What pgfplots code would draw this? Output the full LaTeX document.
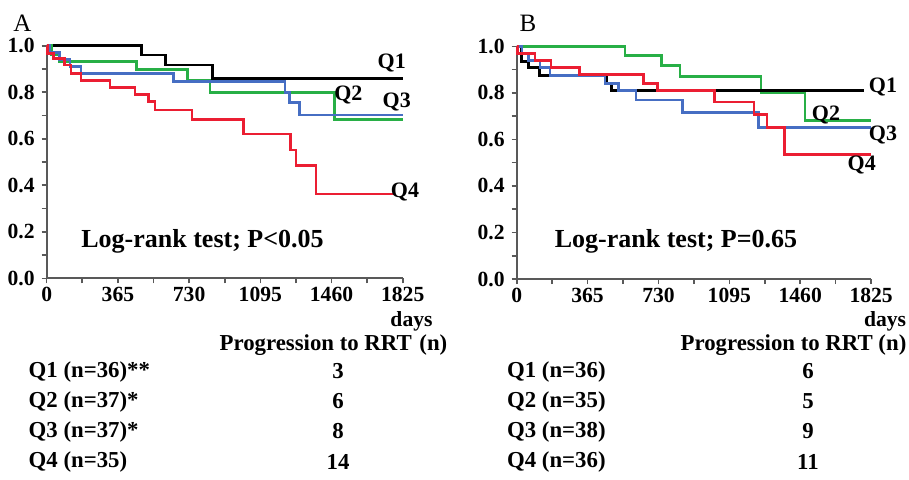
\documentclass[border=0pt]{standalone}
\usepackage{fontspec}
\setmainfont{Liberation Serif}
\usepackage{pgfplots}
\pgfplotsset{compat=1.18}

\definecolor{qgreen}{RGB}{40,175,70}
\definecolor{qblue}{RGB}{70,110,195}
\definecolor{qred}{RGB}{235,30,50}

\newcommand{\tk}{\bfseries\fontsize{10.8}{11}\selectfont}
\newcommand{\ql}{\bfseries\fontsize{11}{11}\selectfont}
\newcommand{\tb}{\bfseries\fontsize{11.4}{12}\selectfont}

\pgfplotsset{
  km/.style={
    scale only axis,
    xmin=0, xmax=1825, ymin=0, ymax=1,
    axis lines=left,
    axis line style={-, draw=black!65, line width=0.9pt},
    xtick={0,365,730,1095,1460,1825},
    minor xtick={182.5,547.5,912.5,1277.5,1642.5},
    ytick={0,0.2,0.4,0.6,0.8,1.0},
    minor ytick={0.1,0.3,0.5,0.7,0.9},
    tick align=outside,
    major tick length=2.5pt, minor tick length=2.5pt,
    tick style={draw=black!65, line width=0.8pt},
    ticklabel style={font=\tk},
    /pgf/number format/assume math mode=true,
    yticklabel style={/pgf/number format/.cd, fixed, fixed zerofill, precision=1},
    xticklabel style={yshift=-0.8pt, inner sep=1pt, /pgf/number format/.cd, fixed, 1000 sep={}},
    clip=false,
  },
  curve/.style={const plot, no marks, line width=1.3pt},
}

\begin{document}
\begin{tikzpicture}[x=0.5pt, y=-0.5pt]
\useasboundingbox (0,0) rectangle (909,479);

% ---- panel A
\begin{axis}[km, at={(23.35pt,-139.15pt)}, anchor=south west, width=178pt, height=116.3pt]
\addplot[curve, black] coordinates {(0,1)(487,0.96)(610,0.917)(850,0.86)(1825,0.86)};
\addplot[curve, qgreen] coordinates {(0,1)(26,0.96)(65,0.931)(461,0.899)(721,0.853)(837,0.80)(1475,0.684)(1825,0.684)};
\addplot[curve, qblue] coordinates {(0,1)(17,0.97)(65,0.94)(120,0.91)(176,0.881)(649,0.845)(1222,0.80)(1244,0.755)(1295,0.702)(1825,0.702)};
\addplot[curve, qred] coordinates {(0,1)(5,0.967)(34,0.946)(90,0.917)(125,0.88)(176,0.85)(325,0.82)(453,0.79)(521,0.76)(555,0.724)(744,0.684)(1008,0.62)(1251,0.552)(1277,0.484)(1381,0.362)(1780,0.362)};
\end{axis}

% ---- panel B
\begin{axis}[km, at={(258.35pt,-139.5pt)}, anchor=south west, width=177.2pt, height=116.35pt]
\addplot[curve, qgreen] coordinates {(0,1)(558,0.96)(747,0.917)(841,0.87)(1257,0.80)(1485,0.68)(1825,0.68)};
\addplot[curve, black] coordinates {(0,1)(25,0.934)(60,0.909)(116,0.874)(464,0.84)(489,0.81)(1790,0.81)};
\addplot[curve, qblue] coordinates {(0,1)(27,0.97)(60,0.94)(120,0.91)(172,0.874)(455,0.84)(523,0.81)(614,0.77)(855,0.716)(1245,0.65)(1825,0.65)};
\addplot[curve, qred] coordinates {(0,1)(3,0.97)(94,0.94)(177,0.91)(322,0.88)(652,0.84)(726,0.81)(1017,0.76)(1222,0.708)(1288,0.65)(1379,0.536)(1825,0.536)};
\end{axis}

% panel letters
\node[font=\fontsize{12.5}{13}\selectfont] at (22.5,23) {A};
\node[font=\fontsize{12.5}{13}\selectfont] at (528,23) {B};

% curve labels
\node[font=\ql] at (391.7,63.3) {Q1};
\node[font=\ql] at (348.3,95) {Q2};
\node[font=\ql] at (396.7,101.7) {Q3};
\node[font=\ql] at (405,192.3) {Q4};
\node[font=\ql] at (883,86.7) {Q1};
\node[font=\ql] at (826,115) {Q2};
\node[font=\ql] at (883,135) {Q3};
\node[font=\ql] at (861.7,165) {Q4};

% test notes
\node[font=\bfseries\fontsize{13}{14}\selectfont] at (202.5,241.7) {Log-rank test; P<0.05};
\node[font=\bfseries\fontsize{13}{14}\selectfont] at (676,241.7) {Log-rank test; P=0.65};

% days
\node[font=\tk, inner sep=0pt] at (411.5,321) {days};
\node[font=\tk, inner sep=0pt] at (885,321) {days};

% tables
\node[font=\tb] at (333.5,345) {Progression to RRT\,\,(n)};
\node[font=\tb, anchor=west, inner sep=0pt] at (28.3,371.5) {Q1 (n=36)**};
\node[font=\tb, anchor=west, inner sep=0pt] at (28.3,401.5) {Q2 (n=37)*};
\node[font=\tb, anchor=west, inner sep=0pt] at (28.3,431.5) {Q3 (n=37)*};
\node[font=\tb, anchor=west, inner sep=0pt] at (28.3,461.5) {Q4 (n=35)};
\node[font=\tb] at (338,371.5) {3};
\node[font=\tb] at (338,401.5) {6};
\node[font=\tb] at (338,431.5) {8};
\node[font=\tb] at (338,461.5) {14};

\node[font=\tb] at (793.5,345) {Progression to RRT (n)};
\node[font=\tb, anchor=west, inner sep=0pt] at (506.7,371.5) {Q1 (n=36)};
\node[font=\tb, anchor=west, inner sep=0pt] at (506.7,401.5) {Q2 (n=35)};
\node[font=\tb, anchor=west, inner sep=0pt] at (506.7,431.5) {Q3 (n=38)};
\node[font=\tb, anchor=west, inner sep=0pt] at (506.7,461.5) {Q4 (n=36)};
\node[font=\tb] at (808,371.5) {6};
\node[font=\tb] at (808,401.5) {5};
\node[font=\tb] at (808,431.5) {9};
\node[font=\tb] at (808,461.5) {11};
\end{tikzpicture}
\end{document}
